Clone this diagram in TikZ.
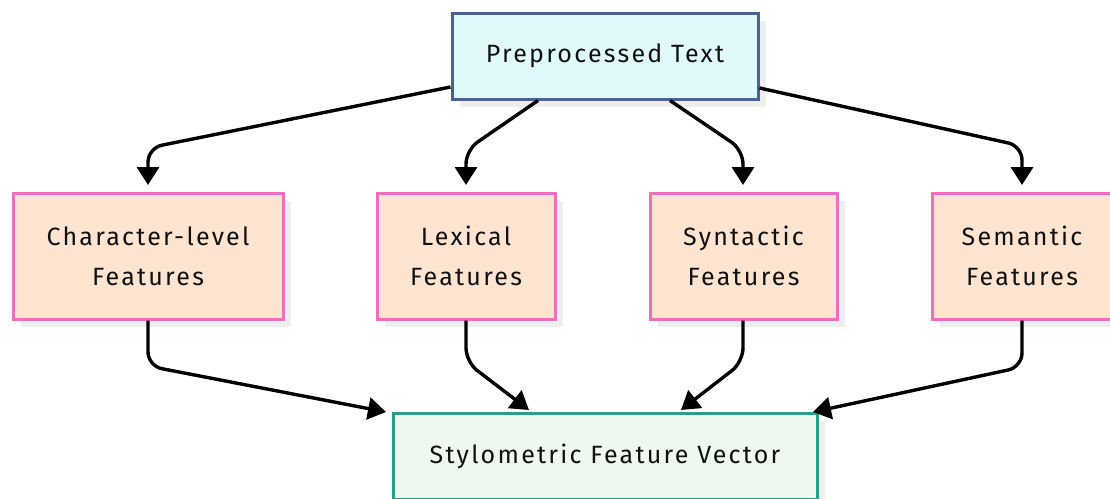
\documentclass[tikz,border=0pt]{standalone}
\usepackage{fontspec}
\setmainfont{Fira Sans}
\newfontfamily\labfont{Fira Sans}[LetterSpace=9]
\usetikzlibrary{arrows.meta,shadows,positioning}
\definecolor{topfill}{HTML}{E0FAFC}
\definecolor{topdraw}{HTML}{4A6490}
\definecolor{midfill}{HTML}{FDE4D0}
\definecolor{middraw}{HTML}{EF6CBF}
\definecolor{botfill}{HTML}{EFF8EE}
\definecolor{botdraw}{HTML}{2E9C8A}
\definecolor{shadowgray}{HTML}{EEEEEE}
\definecolor{txt}{HTML}{111111}
\begin{document}
\begin{tikzpicture}[x=1pt,y=-1pt,
  box/.style={rectangle, line width=3pt, font=\labfont\fontsize{25}{40}\selectfont, text=txt,
    align=center, inner sep=0pt,
    drop shadow={shadow xshift=8pt, shadow yshift=-8pt, fill=shadowgray, opacity=1}},
  topbox/.style={box, draw=topdraw, fill=topfill},
  midbox/.style={box, draw=middraw, fill=midfill, minimum height=126pt},
  botbox/.style={box, draw=botdraw, fill=botfill},
  conn/.style={line width=3.4pt, draw=black, rounded corners=14pt,
    -{Triangle[length=18pt,width=22pt]}}
]
\useasboundingbox (0,0) rectangle (1110,498);
\node[topbox, minimum width=306pt, minimum height=86pt] (pre) at (605,56) {Preprocessed Text};
\node[midbox, minimum width=270pt] (chr) at (148,256) {Character-level\\Features};
\node[midbox, minimum width=178pt] (lex) at (466,256) {Lexical\\Features};
\node[midbox, minimum width=187pt] (syn) at (743.5,256) {Syntactic\\Features};
\node[midbox, minimum width=180pt] (sem) at (1022,256) {Semantic\\Features};
\node[botbox, minimum width=424pt, minimum height=86pt] (vec) at (605,456) {Stylometric Feature Vector};

\coordinate (t1) at (148,185);
\coordinate (t2) at (466,185);
\coordinate (t3) at (743,185);
\coordinate (t4) at (1022,185);
\coordinate (b1) at (386,412);
\coordinate (b2) at (529,410);
\coordinate (b3) at (681,410);
\coordinate (b4) at (813,412);

\draw[conn] ([yshift=-31pt]pre.west) -- (148,148) -- (t1);
\draw[conn] ([xshift=-67pt]pre.south) -- (466,150) -- (t2);
\draw[conn] ([xshift=65pt]pre.south) -- (743,150) -- (t3);
\draw[conn] ([yshift=-32pt]pre.east) -- (1022,146) -- (t4);

\draw[conn] (chr.south) -- (148,366) -- (b1);
\draw[conn] (lex.south) -- (466,362) -- (b2);
\draw[conn] ([xshift=-0.5pt]syn.south) -- (743,362) -- (b3);
\draw[conn] (sem.south) -- (1022,367) -- (b4);
\end{tikzpicture}
\end{document}
